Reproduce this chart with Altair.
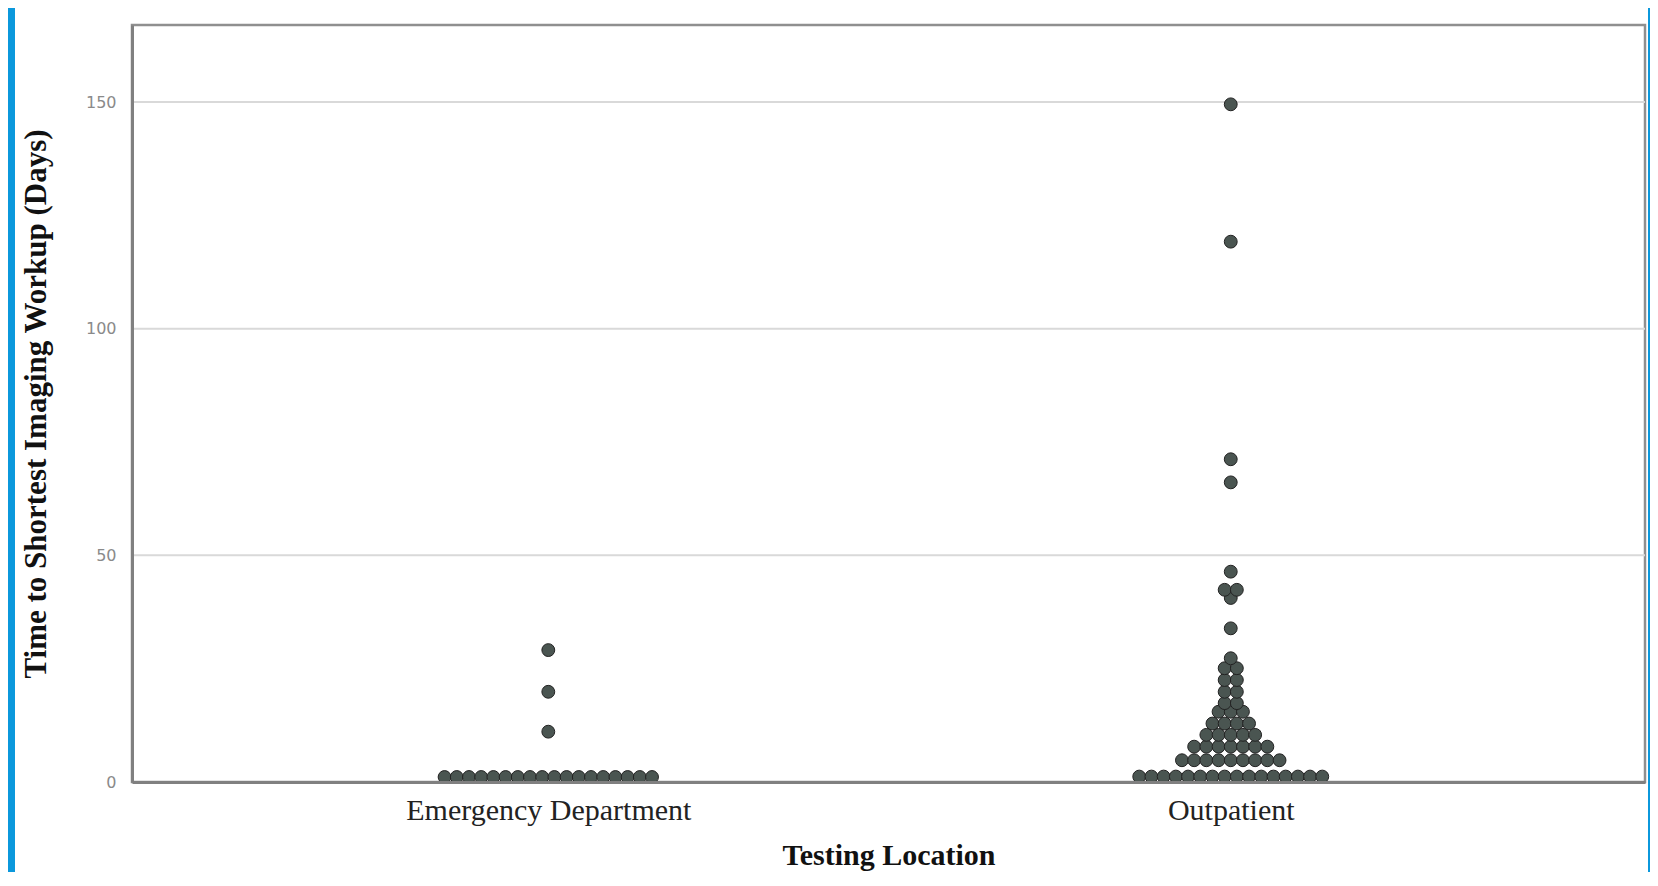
import json
import altair as alt
import pandas as pd

# ---------------- data ----------------
categories = ["Emergency Department", "Outpatient"]

# dot-plot rows: value level and number of dots stacked in that row
ed_levels = [1.1, 11.1, 19.9, 29.1]
ed_counts = [18, 1, 1, 1]

op_levels = [1.2, 4.8, 7.8, 10.4, 12.9, 15.5, 17.4, 19.9, 22.5, 25.1, 27.3,
             33.9, 40.6, 42.4, 46.4, 66.1, 71.2, 119.2, 149.5]
op_counts = [16, 9, 7, 5, 4, 3, 2, 2, 2, 2, 1,
             1, 1, 2, 1, 1, 1, 1, 1]

y_ticks = [0, 50, 100, 150]
grid_values = [50, 100, 150]

# ---------------- table ----------------
rows = []
for pos, (levels, counts) in enumerate([(ed_levels, ed_counts), (op_levels, op_counts)]):
    for v, c in zip(levels, counts):
        for _ in range(c):
            rows.append({"loc": categories[pos], "pos": pos, "val": v})
df = pd.DataFrame(rows)
grid_df = pd.DataFrame({"val": grid_values})
frame_df = pd.DataFrame({"k": [0]})

W, H = 1513, 757
X_DOMAIN = [-0.61, 1.607]
Y_DOMAIN = [0, 167]
SPACING = 0.01788  # horizontal dot spacing in x units

serif = "Liberation Serif"
sans = "DejaVu Sans"

label_expr = json.dumps(categories) + "[datum.value]"

x_scale = alt.Scale(domain=X_DOMAIN, nice=False, zero=False)
y_scale = alt.Scale(domain=Y_DOMAIN, nice=False, zero=True)

y_axis = alt.Axis(
    values=y_ticks, title="Time to Shortest Imaging Workup (Days)",
    grid=False, ticks=False, tickSize=0, labelPadding=16,
    labelFont=sans, labelFontSize=16, labelColor="#8a8a8a",
    domainColor="#808080", domainWidth=3,
    titleFont=serif, titleFontSize=31, titleFontWeight="bold", titleColor="#111111",
    titleAngle=-90, titleX=-96, titleY=H / 2, titleBaseline="middle", titleAlign="center",
    zindex=1,
)

x_axis = alt.Axis(
    values=[0, 1], labelExpr=label_expr, title="Testing Location",
    grid=False, ticks=False, tickSize=0, labelPadding=13, labelOverlap=False,
    labelFlush=False, labelLimit=0,
    labelFont=serif, labelFontSize=30, labelColor="#222222",
    domainColor="#808080", domainWidth=3,
    titleFont=serif, titleFontSize=30, titleFontWeight="bold", titleColor="#111111",
    titlePadding=15, zindex=1,
)

# blue border strips outside the chart's white area (decoration)
blue = "#0b98dc"
left_strip = alt.Chart(frame_df).mark_rect(color=blue).encode(
    x=alt.value(-124), x2=alt.value(-117), y=alt.value(-17), y2=alt.value(H + 90)
)
right_strip = alt.Chart(frame_df).mark_rect(color=blue).encode(
    x=alt.value(W + 3), x2=alt.value(W + 6), y=alt.value(-17), y2=alt.value(H + 90)
)

grid = alt.Chart(grid_df).mark_rule(color="#d9d9d9", strokeWidth=2).encode(
    y=alt.Y("val:Q", scale=y_scale, axis=y_axis)
)

dots = (
    alt.Chart(df)
    .transform_window(idx="row_number()", groupby=["loc", "val"])
    .transform_joinaggregate(n="count()", groupby=["loc", "val"])
    .transform_calculate(xpos=f"datum.pos + (datum.idx - (datum.n + 1) / 2) * {SPACING}")
    .mark_circle(size=165, color="#4a5551", stroke="#222222", strokeWidth=1, opacity=1)
    .encode(
        x=alt.X("xpos:Q", scale=x_scale, axis=x_axis),
        y=alt.Y("val:Q", scale=y_scale, axis=y_axis),
    )
)

chart = (
    alt.layer(left_strip, right_strip, grid, dots)
    .properties(
        width=W, height=H,
        autosize=alt.AutoSizeParams(type="none"),
        padding={"left": 124, "top": 17, "right": 5, "bottom": 90},
        background="white",
    )
    .configure_view(stroke="#8f8f8f", strokeWidth=2.5)
)

chart.save("out.html", embed_options={"renderer": "svg", "actions": False})
